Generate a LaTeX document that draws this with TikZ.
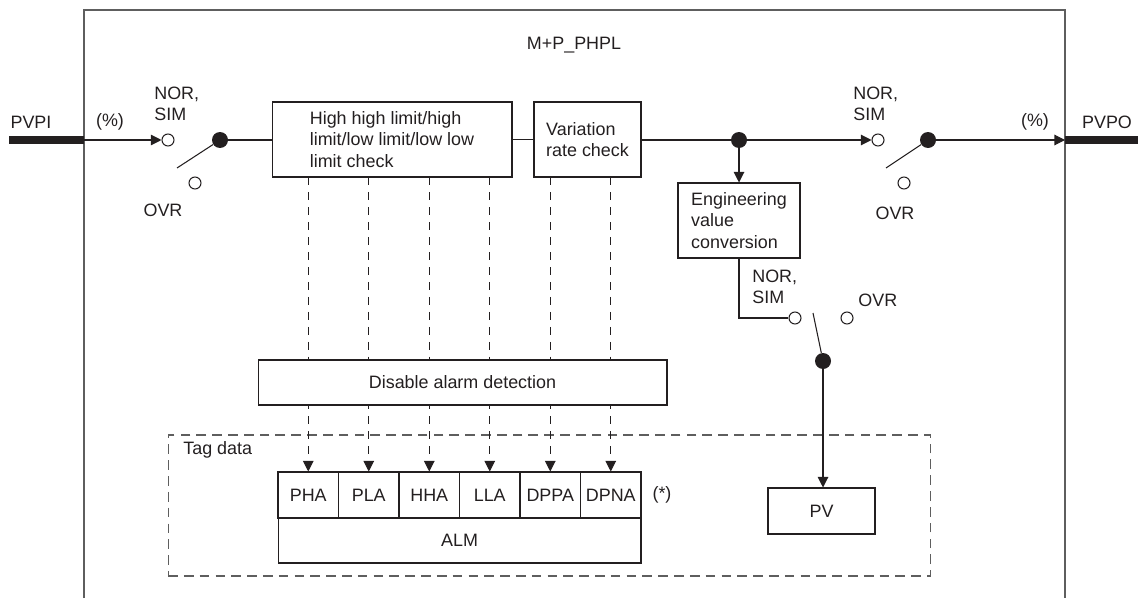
\documentclass[tikz,border=0pt]{standalone}
\usepackage{fontspec}
\setmainfont{Liberation Sans}
\usetikzlibrary{arrows.meta}
\newcommand{\pxu}{0.56906pt}
\definecolor{ink}{HTML}{231F20}
\definecolor{framegray}{HTML}{5E5E5E}
\begin{document}
\begin{tikzpicture}[x=0.02cm,y=-0.02cm,
  font=\fontsize{10.2}{12.2}\selectfont, text=ink,
  box/.style={draw=ink, line width=0.6pt, fill=white, inner sep=0pt},
  lbl/.style={inner sep=0pt, align=left},
  openc/.style={circle, draw=ink, line width=0.6pt, fill=white, minimum size=12*\pxu, inner sep=0pt},
  dotc/.style={circle, fill=ink, minimum size=16*\pxu, inner sep=0pt},
  wire/.style={draw=ink, line width=0.6pt},
  arr/.style={wire, -{Triangle[length=6pt,width=6pt]}},
  dasharr/.style={wire, dash pattern=on 4.5pt off 4pt, -{Triangle[length=6pt,width=6pt]}},
  thickio/.style={draw=ink, line width=4pt},
  tagbox/.style={draw=framegray, line width=0.6pt, dash pattern=on 5.5pt off 3.5pt, inner sep=0pt},
  cell/.style={box, minimum width=60.5*\pxu, minimum height=46*\pxu}
]
\useasboundingbox (0,0) rectangle (1138,598);
% outer frame
\draw[framegray, line width=0.85pt] (84,598) -- (84,10) -- (1065,10) -- (1065,598);
\node[lbl] (title) at (574,45) {M+P\_PHPL};

% input side
\coordinate (pviEnd) at (9,140);
\coordinate (inL) at (84,140);
\draw[thickio] (pviEnd) -- (inL);
\node[lbl] (pvpi) at (31,122) {PVPI};
\node[lbl] (pctI) at (110,122) {(\%)};

% switch 1
\node[openc] (sw1in) at (168,140) {};
\node[dotc] (sw1out) at (220,140) {};
\node[openc] (sw1ovr) at (195,183) {};
\coordinate (b1) at (177,168);
\node[lbl, anchor=west] (ns1) at (154,104) {NOR,\\SIM};
\node[lbl] (ovr1) at (163,210) {OVR};
\draw[arr] (inL) -- (sw1in);
\draw[wire] (b1) -- (sw1out);

% check boxes
\node[box, minimum width=240*\pxu, minimum height=75*\pxu, align=left] (chk) at (392,139.5) {High high limit/high\\limit/low limit/low low\\limit check};
\node[box, minimum width=107*\pxu, minimum height=75*\pxu, align=left] (var) at (587.5,139.5) {Variation\\rate check};
\draw[wire] (sw1out) -- (sw1out -| chk.west);
\draw[wire] (chk.east |- var.west) -- (var.west);

% junction and switch 2
\node[dotc] (jn) at (739,140) {};
\draw[wire] (var.east |- jn) -- (jn);
\node[openc] (sw2in) at (878,140) {};
\node[dotc] (sw2out) at (928,140) {};
\node[openc] (sw2ovr) at (904,183) {};
\coordinate (b2) at (886,168);
\node[lbl, anchor=west] (ns2) at (853,104) {NOR,\\SIM};
\node[lbl] (ovr2) at (895,213) {OVR};
\draw[arr] (jn) -- (sw2in);
\draw[wire] (b2) -- (sw2out);
\coordinate (outR) at (1065,140);
\coordinate (pvoEnd) at (1138,140);
\draw[arr] (sw2out) -- (outR);
\draw[thickio] (outR) -- (pvoEnd);
\node[lbl] (pctO) at (1035,122) {(\%)};
\node[lbl] (pvpo) at (1107,122) {PVPO};

% engineering value conversion
\node[box, minimum width=122*\pxu, minimum height=75*\pxu, align=left] (eng) at (739,220.5) {Engineering\\value\\conversion};
\draw[arr] (jn) -- (eng.north);

% switch 3
\node[openc] (sw3in) at (795,318) {};
\node[openc] (sw3ovr) at (847,318) {};
\node[dotc] (sw3out) at (823,361) {};
\coordinate (b3) at (813,313);
\node[lbl, anchor=west] (ns3) at (752,287) {NOR,\\SIM};
\node[lbl, anchor=west] (ovr3) at (858,300) {OVR};
\draw[wire] (eng.south) |- (sw3in);
\draw[wire] (b3) -- (sw3out);

% tag data
\node[tagbox, minimum width=763*\pxu, minimum height=141*\pxu] (tag) at (549.5,505.5) {};
\node[lbl, anchor=west] (tagl) at (183,450) {Tag data};
\node[cell] (c1) at (308.25,495) {PHA};
\node[cell] (c2) at (368.75,495) {PLA};
\node[cell] (c3) at (429.25,495) {HHA};
\node[cell] (c4) at (489.75,495) {LLA};
\node[cell] (c5) at (550.25,495) {DPPA};
\node[cell] (c6) at (610.75,495) {DPNA};
\node[box, minimum width=363*\pxu, minimum height=45*\pxu] (alm) at (459.5,540.5) {ALM};
\node[lbl] (star) at (662,495) {(*)};
\node[box, minimum width=107*\pxu, minimum height=46*\pxu] (pv) at (821.5,511) {PV};
\draw[arr] (sw3out) -- (sw3out |- pv.north);

% dashed alarm arrows
\foreach \i in {1,2,3,4} \draw[dasharr] (c\i |- chk.south) -- (c\i.north);
\foreach \i in {5,6} \draw[dasharr] (c\i |- var.south) -- (c\i.north);

% disable box on top
\node[box, minimum width=409*\pxu, minimum height=45*\pxu] (dis) at (462.5,382.5) {Disable alarm detection};
\end{tikzpicture}
\end{document}
